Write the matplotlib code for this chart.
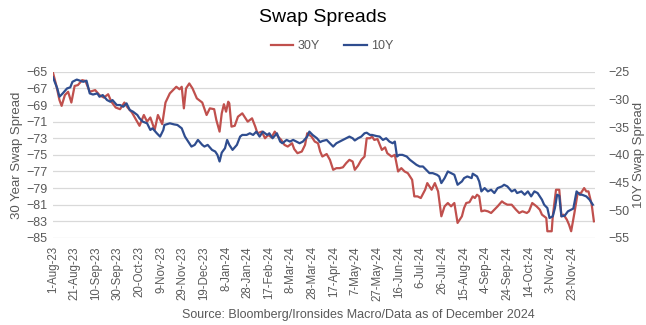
import matplotlib
matplotlib.use("Agg")
import matplotlib.pyplot as plt
import pandas as pd

plt.rcParams['font.family'] = ['Liberation Sans', 'DejaVu Sans']

START = "2023-08-01"

# 30Y swap spread (left axis): days since 1-Aug-23, value
days_30y = [0, 3, 6, 8, 11, 14, 17, 20, 23, 27, 30, 34, 39, 43, 47, 51, 54, 58, 62, 66,
            69, 73, 77, 80, 84, 87, 90, 94, 97, 101, 104, 108, 111, 114, 117, 119, 121, 123, 126, 129,
            133, 136, 138, 142, 145, 149, 151, 154, 156, 158, 160, 162, 163, 165, 168, 171, 175, 177, 180, 184,
            187, 189, 193, 196, 199, 202, 205, 208, 211, 214, 217, 221, 223, 226, 230, 233, 235, 239, 242, 245,
            247, 249, 253, 256, 259, 262, 265, 268, 271, 274, 277, 279, 282, 285, 288, 290, 293, 295, 297, 300,
            304, 307, 309, 313, 316, 319, 322, 325, 328, 332, 334, 337, 340, 344, 346, 350, 353, 356, 359, 362,
            365, 368, 371, 374, 378, 380, 382, 385, 388, 390, 392, 394, 396, 399, 402, 405, 408, 411, 415, 417,
            420, 424, 428, 431, 434, 438, 440, 443, 447, 450, 452, 456, 457, 461, 462, 465, 468, 470, 472, 475,
            477, 479, 482, 485, 488, 491, 493, 495, 498, 500]
spread_30y = [-65.1, -66.6, -68.4, -69.1, -67.8, -67.4, -68.7, -66.7, -66.6, -66.0, -66.1, -67.4, -67.2, -67.8, -68.1, -67.7, -68.6, -69.3, -69.5, -68.7,
              -69.3, -69.9, -70.8, -71.5, -70.2, -71.0, -70.5, -72.0, -70.2, -71.3, -68.7, -67.6, -67.2, -66.8, -67.1, -66.8, -69.4, -67.0, -66.4, -67.0,
              -68.2, -68.5, -68.7, -70.2, -69.4, -69.5, -70.8, -72.2, -70.0, -68.9, -69.8, -68.6, -68.8, -71.6, -71.5, -70.4, -70.0, -70.4, -71.0, -70.6,
              -71.6, -72.4, -72.2, -73.0, -72.6, -72.9, -72.2, -72.8, -73.2, -73.8, -74.0, -73.6, -74.3, -74.8, -74.6, -73.8, -72.4, -72.8, -73.4, -73.6,
              -74.6, -75.2, -74.9, -75.6, -76.8, -76.6, -76.6, -76.5, -76.0, -75.6, -75.8, -76.8, -76.3, -75.6, -75.2, -73.0, -73.0, -72.8, -73.2, -73.1,
              -74.4, -74.1, -74.8, -75.2, -75.0, -77.0, -76.6, -77.0, -77.2, -78.0, -80.0, -80.0, -80.2, -79.2, -78.4, -79.2, -78.4, -79.4, -82.4, -81.2,
              -80.8, -81.2, -80.8, -83.2, -82.4, -81.4, -80.8, -80.7, -80.0, -80.2, -79.8, -80.0, -81.8, -81.7, -81.8, -82.0, -81.6, -81.2, -80.6, -80.8,
              -81.0, -81.0, -81.6, -82.0, -81.8, -82.0, -81.8, -80.8, -81.2, -81.6, -82.2, -82.6, -84.2, -84.2, -82.4, -79.2, -79.2, -82.4, -82.2, -82.8,
              -83.4, -84.2, -82.0, -79.6, -79.6, -79.0, -79.4, -79.4, -81.0, -83.0]

# 10Y swap spread (right axis): days since 1-Aug-23, value
days_10y = [0, 4, 6, 9, 13, 16, 18, 22, 25, 28, 31, 34, 37, 41, 43, 46, 50, 53, 55, 59,
            62, 65, 68, 71, 74, 78, 80, 83, 87, 90, 92, 96, 99, 102, 103, 108, 112, 115, 119, 122,
            125, 128, 131, 134, 138, 140, 143, 147, 150, 152, 154, 156, 159, 161, 163, 166, 170, 173, 175, 179,
            182, 185, 188, 191, 194, 198, 200, 203, 207, 210, 212, 216, 219, 222, 225, 228, 231, 235, 237, 240,
            244, 247, 249, 253, 256, 259, 262, 265, 268, 271, 274, 277, 279, 282, 285, 288, 290, 293, 295, 299,
            302, 305, 308, 311, 314, 316, 318, 320, 323, 327, 330, 332, 336, 339, 342, 345, 348, 351, 355, 357,
            359, 362, 365, 368, 371, 374, 378, 380, 383, 387, 388, 392, 394, 396, 399, 402, 405, 408, 411, 415,
            417, 420, 424, 427, 429, 433, 436, 439, 442, 445, 448, 452, 454, 457, 459, 462, 464, 466, 468, 470,
            473, 476, 479, 481, 484, 487, 489, 493, 496, 499]
spread_10y = [-26.0, -28.0, -29.5, -28.9, -28.0, -27.8, -26.8, -26.4, -26.6, -26.8, -26.6, -28.9, -29.1, -28.9, -29.5, -29.2, -30.1, -30.4, -30.1, -31.0,
              -31.0, -31.3, -30.7, -31.9, -32.2, -32.8, -33.4, -34.0, -34.3, -35.5, -35.2, -36.1, -36.7, -35.5, -34.6, -34.3, -34.5, -34.6, -35.2, -36.7,
              -37.6, -38.5, -38.2, -37.3, -38.2, -38.5, -38.2, -39.1, -39.4, -40.0, -41.2, -39.6, -38.8, -37.3, -38.2, -39.1, -38.2, -36.7, -36.4, -36.4,
              -36.1, -36.4, -35.8, -36.7, -35.8, -36.4, -36.1, -37.0, -36.1, -37.6, -37.9, -37.3, -37.6, -37.3, -37.6, -37.9, -37.6, -36.7, -35.8, -36.4,
              -37.0, -37.7, -37.5, -37.3, -37.9, -38.5, -37.9, -37.6, -37.3, -37.0, -36.7, -37.0, -37.4, -37.0, -36.7, -36.1, -36.0, -36.4, -36.4, -36.6,
              -36.7, -37.3, -37.0, -37.6, -37.9, -37.6, -40.3, -40.0, -40.0, -40.3, -40.9, -41.2, -41.8, -42.1, -42.1, -42.7, -43.3, -43.3, -43.6, -43.9,
              -45.1, -44.2, -43.0, -43.3, -43.6, -45.4, -44.8, -44.2, -43.9, -44.2, -43.4, -43.9, -44.8, -46.6, -46.0, -46.6, -46.3, -46.9, -46.0, -45.7,
              -45.4, -45.7, -46.6, -46.3, -46.9, -46.6, -47.2, -46.6, -47.5, -46.6, -46.9, -48.1, -49.0, -49.6, -51.4, -51.1, -49.6, -47.2, -47.4, -51.1,
              -51.0, -50.2, -49.9, -49.7, -46.6, -47.2, -47.2, -47.5, -48.1, -49.0]

tick_labels = ["1-Aug-23", "21-Aug-23", "10-Sep-23", "30-Sep-23", "20-Oct-23", "9-Nov-23",
               "29-Nov-23", "19-Dec-23", "8-Jan-24", "28-Jan-24", "17-Feb-24", "8-Mar-24",
               "28-Mar-24", "17-Apr-24", "7-May-24", "27-May-24", "16-Jun-24", "6-Jul-24",
               "26-Jul-24", "15-Aug-24", "4-Sep-24", "24-Sep-24", "14-Oct-24", "3-Nov-24",
               "23-Nov-24"]
left_ticks = [-65, -67, -69, -71, -73, -75, -77, -79, -81, -83, -85]
right_ticks = [-25, -30, -35, -40, -45, -50, -55]

start = pd.Timestamp(START)
x30 = start + pd.to_timedelta(days_30y, unit="D")
x10 = start + pd.to_timedelta(days_10y, unit="D")
tick_pos = pd.to_datetime(tick_labels, format="%d-%b-%y")

RED = "#C0504D"
BLUE = "#2F4D8F"
GRAY = "#595959"

fig = plt.figure(figsize=(6.46, 3.25), dpi=100)
ax = fig.add_axes([0.082, 0.268, 0.839, 0.511])
ax2 = ax.twinx()

ax.plot(x30, spread_30y, color=RED, lw=1.6, label="30Y", zorder=3)
ax2.plot(x10, spread_10y, color=BLUE, lw=1.6, label="10Y", zorder=3)

ax.set_ylim(-85, -65)
ax.set_yticks(left_ticks)
ax2.set_ylim(-55, -25)
ax2.set_yticks(right_ticks)
ax.set_xlim(start, start + pd.Timedelta(days=501))
ax.set_xticks(tick_pos)
ax.set_xticklabels(tick_labels, rotation=90, fontsize=8.3, color=GRAY)

ax.grid(axis="y", color="#D9D9D9", lw=0.9)
ax.set_axisbelow(True)
for a in (ax, ax2):
    for s in a.spines.values():
        s.set_visible(False)
    a.tick_params(length=0, colors=GRAY, labelsize=9)
ax.tick_params(axis="x", pad=6, labelsize=8.3)
ax.tick_params(axis="y", pad=4)
ax2.tick_params(axis="y", pad=10)

ax.set_ylabel("30 Year Swap Spread", fontsize=9.5, color=GRAY, labelpad=2)
ax2.set_ylabel("10Y Swap Spread", fontsize=9.5, color=GRAY, labelpad=2)

fig.text(0.5, 0.945, "Swap Spreads", ha="center", va="center", fontsize=14, color="black")
h1, l1 = ax.get_legend_handles_labels()
h2, l2 = ax2.get_legend_handles_labels()
fig.legend(h1 + h2, l1 + l2, loc="center", bbox_to_anchor=(0.514, 0.858), ncol=2, frameon=False,
           fontsize=9, labelcolor=GRAY, handlelength=1.8, handletextpad=0.3, columnspacing=2.0)
fig.text(0.555, 0.03, "Source: Bloomberg/Ironsides Macro/Data as of December 2024",
         ha="center", va="center", fontsize=9, color=GRAY)

fig.savefig("out.png", dpi=100)
